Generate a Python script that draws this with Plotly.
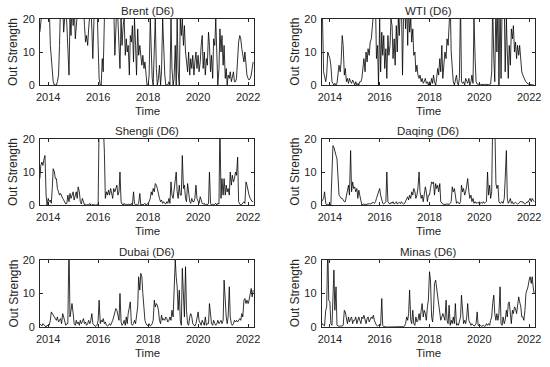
import pandas as pd
import plotly.graph_objects as go
from plotly.subplots import make_subplots

# Semi-monthly observation dates (1st and 15th of each month)
dates = pd.date_range("2013-09-01", "2022-03-15", freq="SMS")

brent = [
    16, 25, 25, 25, 25, 25, 25, 25,
    25, 25, 12, 8, 3, 1, 0, 0, 0, 1, 3, 12, 25, 20, 25, 16, 25, 25, 18, 12, 3, 20, 15, 25,
    18, 25, 14, 25, 25, 25, 25, 25, 25, 25, 25, 18, 13, 15, 12, 17, 20, 25, 17, 8, 20, 25, 25, 25,
    12, 2, 0, 0, 8, 4, 20, 25, 25, 25, 25, 25, 25, 25, 25, 25, 9, 15, 25, 20, 12, 5, 20, 12,
    18, 20, 9, 14, 10, 12, 3, 15, 13, 18, 7, 20, 12, 3, 17, 9, 12, 8, 6, 9, 5, 7, 3, 0,
    0, 3, 20, 8, 2, 0, 10, 20, 5, 0, 2, 6, 0, 4, 20, 10, 3, 0, 0, 0, 1, 0, 20, 5,
    0, 2, 12, 0, 20, 4, 0, 20, 15, 20, 12, 18, 10, 7, 4, 10, 3, 8, 5, 9, 3, 7, 10, 5,
    9, 4, 7, 12, 15, 5, 10, 3, 8, 6, 16, 12, 4, 9, 2, 14, 12, 20, 8, 0, 5, 17, 10, 15,
    6, 12, 2, 5, 0, 3, 2, 4, 1, 2, 4, 1, 1, 2, 8, 13, 15, 14, 11, 9, 7, 10, 6, 3,
    2, 1.5, 2, 3, 5, 7,
]

wti = [
    25, 20, 4, 2, 1, 3, 10, 9,
    8, 6, 1, 0.5, 0, 0.5, 0, 0.5, 5, 6, 4, 7, 15, 12, 3, 5, 1, 2, 0.5, 2, 1, 0.5, 1.5, 0.5,
    0, 1, 0, 0.5, 0, 1, 1, 2, 5, 8, 4, 10, 7, 11, 9, 13, 14, 25, 25, 25, 25, 8, 12, 0,
    20, 4, 16, 9, 15, 5, 11, 2, 15, 9, 12, 20, 18, 8, 14, 6, 18, 10, 20, 15, 25, 25, 3, 20,
    25, 17, 25, 12, 25, 16, 20, 13, 17, 9, 10, 4, 6, 3, 2, 3, 1, 2, 0.5, 1, 2, 0.5, 1, 0,
    1, 0, 2, 0.5, 3, 1, 0, 2, 5, 3, 8, 4, 12, 2, 6, 10, 8, 14, 12, 20, 25, 10, 3, 1,
    0, 1, 3, 0.5, 0, 2, 25, 1, 0.5, 1, 0, 2, 1, 0.5, 2, 0, 1, 3, 0.5, 20, 8, 1, 0.3, 0.2,
    0.2, 0.1, 0.2, 0.1, 0.2, 0.1, 0.2, 0.1, 0.2, 0.1, 0.2, 0.3, 4, 25, 8, 1, 25, 10, 25, 0, 25, 2, 25, 20,
    25, 4, 20, 10, 2, 12, 6, 17, 14, 18, 10, 13, 8, 12, 9, 12, 6, 4, 3, 2, 1.5, 1, 0.5, 0.3,
    0.2, 0.1, 0, 0, 0, 0,
]

shengli = [
    8, 12, 13, 12, 14, 15, 3, 0,
    2, 1, 1.5, 0.5, 5, 11, 10, 8, 8, 5, 4, 3, 3.5, 2.5, 2, 1.5, 1, 0.3, 0.5, 3, 1, 3.5, 2, 3,
    4, 1.5, 3, 4, 2, 5.5, 4, 1, 0.3, 2, 1, 0, 0.2, 0, 0.1, 0, 0.5, 0, 0, 0.2, 0, 0.1, 0, 0,
    0.5, 25, 25, 25, 25, 25, 16, 2, 4, 3, 4.5, 3, 5, 4, 2, 5, 4, 5, 6, 3, 4, 10, 1, 0.3,
    0, 0.5, 0, 0.2, 0, 0.3, 0, 0, 0.5, 0, 4, 0.5, 0, 0.2, 0, 0.5, 3.5, 0, 0.3, 0, 0.2, 0.5, 0, 0.2,
    0.5, 1, 2, 4, 3, 5, 4, 6.5, 6, 5, 3, 2, 1, 1.5, 0.5, 1, 0.5, 0.3, 1, 0.5, 2, 0.5, 7, 3,
    2, 5, 7, 10, 4, 2, 6, 3, 3, 15, 5, 6, 2, 1, 6.5, 3, 1, 0.5, 2, 1, 1, 2, 6, 2,
    1, 0.5, 2.5, 1, 0.5, 0.3, 0.5, 0, 0.3, 0, 0.5, 10, 0.5, 0, 0.3, 0, 0.2, 0.5, 0, 0.5, 0.3, 25, 2, 8,
    3, 8, 3, 6, 4, 5, 3, 10, 6, 9, 7, 8, 10, 9, 14.5, 1, 0.3, 0, 0.2, 0.5, 1, 0.5, 7, 6,
    4, 3, 2, 1.5, 1, 1,
]

daqing = [
    1, 1.5, 2, 4, 0.5, 0, 0.3, 0,
    0.2, 0, 10, 18, 17.5, 16, 15, 14, 6, 3, 2.5, 2, 2, 1.5, 1, 1, 3, 5, 6, 3, 16.5, 4, 7, 5,
    5.5, 4, 5, 2, 4.5, 3, 0.5, 0, 0.2, 0.3, 0.1, 0.2, 0.3, 0.2, 0.4, 0.3, 0.5, 0.6, 0.8, 0.5, 1, 2, 3, 4,
    5, 3, 1, 0.5, 0.3, 0.5, 1, 10, 1, 0.5, 0.3, 0.8, 0.5, 1, 0.3, 0.5, 1, 0.3, 0.5, 0.8, 0.4, 1, 0.5, 0.3,
    0.5, 1, 2, 2.5, 1.5, 3, 2, 4, 3, 5, 4, 2, 3, 5, 10, 4, 2, 3, 1, 3, 5.5, 4, 1, 3,
    3, 5, 7, 6.5, 7, 3, 6.5, 5, 6, 4, 6.5, 1, 0.5, 0.3, 0.2, 0.1, 0.3, 0.2, 0.3, 0.2, 0.5, 1, 5.5, 4,
    5, 3, 0.5, 1, 0.5, 0.3, 1, 6, 4, 5, 3, 4, 6, 8, 4, 2, 3, 1, 2, 0.5, 1, 0.5, 0.8, 0.5,
    1, 0.5, 0.8, 0.5, 1, 0.5, 0.8, 1, 10, 3, 6, 2, 4, 25, 25, 25, 6.5, 5, 6, 1, 0.5, 0.8, 1, 0.5,
    2, 8, 16.5, 2, 0.5, 1, 2, 0.5, 1, 0.3, 0.5, 0.8, 0.5, 0.3, 0.5, 1, 1.2, 0.8, 1, 0.5, 0.3, 0.5, 1, 0.8,
    1.5, 2, 1, 2, 1.5, 1,
]

dubai = [
    1, 0.5, 0.3, 1, 0.5, 0.3, 0, 0.5,
    0.3, 0.5, 2, 4.5, 4, 3.5, 3, 2.5, 2, 3, 1.5, 2, 2.5, 1, 4, 3, 1, 0.5, 1, 1, 25, 3, 5, 7,
    4, 1, 0.5, 2, 1, 1.5, 0.5, 2, 1, 1.5, 2.5, 1, 1.5, 0.5, 1, 2, 1, 2, 4, 1, 0.5, 0.3, 0.2, 0.5,
    2, 8, 1, 2, 1.5, 2.5, 1, 1.5, 0.5, 0.3, 0.5, 1, 0.5, 1, 2, 3, 5, 5.5, 5, 4, 2, 10, 1.5, 0.5,
    1, 2, 0.5, 3, 1, 4, 6, 7.5, 1, 0.5, 1, 2, 1, 3, 6, 15, 11, 16, 15, 10, 5, 2, 1, 0.5,
    0.5, 1, 0.3, 0.5, 1, 2, 8, 6, 7, 6.5, 5, 2, 1, 3.5, 2, 2.5, 2, 3, 2.5, 1.5, 2, 3, 2, 5,
    3, 10, 20, 15, 12, 5, 11, 2, 0.5, 17.5, 10, 3, 18, 5, 1, 0.5, 3, 4, 3, 1, 0.5, 0.3, 1, 3,
    4.5, 2, 1, 0.5, 2, 1, 0.5, 3, 0.5, 1, 1, 7, 3, 1, 0.5, 2, 1, 0.5, 1, 2, 1, 1.5, 2, 1,
    2, 14, 6, 3, 1, 3, 12, 3, 1, 0.5, 1, 2, 1.5, 2, 1.5, 2, 2.5, 2, 4, 3, 8, 8.5, 7, 8,
    7, 8, 10, 11.5, 9, 11,
]

minas = [
    0.5, 1, 0.5, 0.3, 5, 6, 25, 8,
    7.5, 1, 0.5, 8, 17, 5, 12, 0.5, 0.3, 0.2, 0.3, 0.2, 0.3, 0.5, 5, 4.5, 2, 1, 3, 1.5, 2.5, 3, 1, 2,
    2, 3, 1, 2.5, 3, 2, 1, 3, 2.5, 3.5, 2, 1, 2.5, 3, 1.5, 2, 3, 2.5, 3.5, 2, 1, 0.5, 0.3, 0.5,
    0.3, 0.5, 8.5, 0.5, 0.1, 0, 0, 0, 0, 0, 0, 0, 0, 0, 0, 0, 0, 0, 0, 0, 0, 0, 0, 0.1,
    0.3, 1, 3, 2, 4, 11, 2, 1, 5, 1, 0.5, 3, 1.5, 2, 4, 2, 5, 7, 3, 5, 4, 2, 6, 8,
    16.5, 14, 3, 1.5, 5, 13, 14, 12, 10, 8, 4, 2, 3, 4, 3, 2, 8, 2, 1, 6.5, 0.5, 2, 1, 3,
    1, 7, 0.5, 1, 0.5, 2, 3, 9.5, 3, 1, 2, 1, 3, 7, 2, 1.5, 0.5, 1, 0.5, 0.3, 0.5, 1, 4.5, 0.5,
    0.3, 0.5, 0.2, 0.3, 0.5, 0.2, 0.3, 1, 0.5, 1, 0.5, 2, 3, 7, 9.5, 4, 2, 4, 2, 4, 12, 1, 0.5, 3,
    1, 2, 5, 3, 7, 7.5, 3, 1, 5, 4, 6, 5.5, 4, 7, 9, 7.5, 6, 3, 3, 2, 5, 10, 11, 12,
    14, 15, 13, 15, 12, 10,
]

titles = ["Brent (D6)", "WTI (D6)", "Shengli (D6)", "Daqing (D6)", "Dubai (D6)", "Minas (D6)"]
series = [brent, wti, shengli, daqing, dubai, minas]
tick_years = ["2014", "2016", "2018", "2020", "2022"]
y_ticks = [0, 10, 20]

for s in series:
    assert len(s) == len(dates), (len(s), len(dates))

W, H = 550, 367
FONT = "Liberation Sans, Arial, sans-serif"
TXT = "#262626"

col_px = [(40, 254), (321.7, 535)]
row_px = [(19, 85), (139, 205), (260, 327)]

fig = make_subplots(rows=3, cols=2)

annotations = []
for idx, (name, vals) in enumerate(zip(titles, series)):
    r, c = idx // 2, idx % 2
    fig.add_trace(
        go.Scatter(x=dates, y=vals, mode="lines",
                   line=dict(color="black", width=0.8), showlegend=False,
                   hoverinfo="skip"),
        row=r + 1, col=c + 1,
    )
    x0, x1 = col_px[c]
    y0, y1 = row_px[r]
    dx = [x0 / W, x1 / W]
    dy = [1 - y1 / H, 1 - y0 / H]
    n = idx + 1
    common = dict(showline=True, linecolor=TXT, linewidth=0.8, mirror="ticks",
                  ticks="inside", ticklen=3, tickwidth=0.8, tickcolor=TXT,
                  showgrid=False, zeroline=False, automargin=False,
                  tickfont=dict(family=FONT, size=11, color=TXT))
    fig.update_layout({
        f"xaxis{n}": dict(domain=dx, type="date",
                          range=["2013-09-03", "2022-03-28"],
                          tickvals=[f"{y}-01-01" for y in tick_years],
                          ticktext=tick_years, ticklabelstandoff=2, **common),
        f"yaxis{n}": dict(domain=dy, range=[0, 20], tickvals=y_ticks,
                          ticklabelstandoff=2, **common),
    })
    xc = (dx[0] + dx[1]) / 2
    annotations.append(dict(text=name, x=xc, y=dy[1], xref="paper", yref="paper",
                            xanchor="center", yanchor="bottom", yshift=0,
                            showarrow=False, font=dict(family=FONT, size=11.5, color=TXT)))
    annotations.append(dict(text="Time", x=xc, y=dy[0], xref="paper", yref="paper",
                            xanchor="center", yanchor="top", yshift=-18,
                            showarrow=False, font=dict(family=FONT, size=11.5, color=TXT)))
    annotations.append(dict(text="Out Strength", x=dx[0], y=(dy[0] + dy[1]) / 2,
                            xref="paper", yref="paper", xanchor="center", yanchor="middle",
                            xshift=-27, textangle=-90,
                            showarrow=False, font=dict(family=FONT, size=12, color=TXT)))

fig.update_layout(template="none", width=W, height=H,
                  margin=dict(l=0, r=0, t=0, b=0, pad=0),
                  paper_bgcolor="white", plot_bgcolor="white",
                  annotations=annotations)

fig.write_html("out.html", config={"displayModeBar": False},
               post_script="document.body.style.margin='0px';document.body.style.padding='0px';")
